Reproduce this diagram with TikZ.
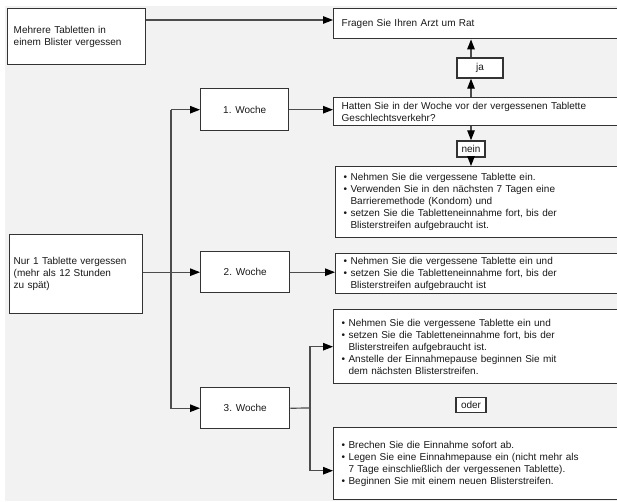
\documentclass[tikz,border=0pt]{standalone}
\usepackage{fontspec}
\setmainfont{Liberation Sans}
\usepackage{tikz}
\usetikzlibrary{positioning, arrows.meta}
\usepackage{xcolor}

\newcommand{\pkt}{\textbullet\ }
\newcommand{\ein}{\phantom{\textbullet\ }}

\tikzset{
    kasten/.style={draw=black!80, line width=1.4pt, fill=white, anchor=north west,
        align=left, inner xsep=8pt, inner ysep=2pt, text=black!90,
        font=\fontsize{10}{12}\selectfont},
    marke/.style={kasten, anchor=center, align=center, inner sep=1pt},
    linie/.style={draw=black!70, line width=1.2pt}
}

\begin{document}
\begin{tikzpicture}[x=1pt, y=-1pt, >={Triangle[length=10pt,width=7.5pt,color=black]}, linie]

    \path[use as bounding box, clip] (0,0) rectangle (617,501);
    \fill[gray!10] (5,6) rectangle (617,501);

    \node[kasten, inner xsep=6pt, minimum width=138pt, minimum height=56pt, text width=126pt] (mehrere) at (7,8)
        {Mehrere Tabletten in\\einem Blister vergessen};
    \node[kasten, inner xsep=4pt, minimum width=133pt, minimum height=79pt, text width=125pt] (nur) at (9,234)
        {Nur 1 Tablette vergessen\\(mehr als 12 Stunden\\zu spät)};

    \node[kasten, align=center, minimum width=88pt, minimum height=42pt] (woche1) at (200,88) {1. Woche};
    \node[kasten, align=center, minimum width=89pt, minimum height=41pt] (woche2) at (200,251) {2. Woche};
    \node[kasten, align=center, minimum width=89pt, minimum height=41pt] (woche3) at (200,387) {3. Woche};

    \node[kasten, minimum height=30pt, text width=290pt] (fragen) at (333,8) {Fragen Sie Ihren Arzt um Rat};
    \node[kasten, minimum height=28pt, text width=290pt] (hatten) at (333,97)
        {Hatten Sie in der Woche vor der vergessenen Tablette\\Geschlechtsverkehr?};
    \node[marke, minimum width=46pt, minimum height=20pt] (ja) at (480,68) {ja};
    \node[marke, minimum width=28pt, minimum height=16pt] (nein) at (471,149) {nein};

    \node[kasten, minimum height=71pt, text width=290pt] (massnahme1) at (335,166)
        {\pkt Nehmen Sie die vergessene Tablette ein.\\
         \pkt Verwenden Sie in den nächsten 7 Tagen eine\\
         \ein Barrieremethode (Kondom) und\\
         \pkt setzen Sie die Tabletteneinnahme fort, bis der\\
         \ein Blisterstreifen aufgebraucht ist.};
    \node[kasten, minimum height=40pt, text width=290pt] (massnahme2) at (335,253)
        {\pkt Nehmen Sie die vergessene Tablette ein und\\
         \pkt setzen Sie die Tabletteneinnahme fort, bis der\\
         \ein Blisterstreifen aufgebraucht ist};
    \node[kasten, minimum height=74pt, text width=290pt] (massnahme3) at (333,309)
        {\pkt Nehmen Sie die vergessene Tablette ein und\\
         \pkt setzen Sie die Tabletteneinnahme fort, bis der\\
         \ein Blisterstreifen aufgebraucht ist.\\
         \pkt Anstelle der Einnahmepause beginnen Sie mit\\
         \ein dem nächsten Blisterstreifen.};
    \node[marke, minimum width=30pt, minimum height=15pt] (oder) at (471,405) {oder};
    \node[kasten, minimum height=72pt, text width=290pt] (massnahme4) at (333,427)
        {\pkt Brechen Sie die Einnahme sofort ab.\\
         \pkt Legen Sie eine Einnahmepause ein (nicht mehr als\\
         \ein 7 Tage einschließlich der vergessenen Tablette).\\
         \pkt Beginnen Sie mit einem neuen Blisterstreifen.};

    \coordinate (stamm) at (171,273);
    \coordinate (gabel) at (310,408);

    \draw[->] (mehrere.east |- 0,20) -- (fragen.west |- 0,20);
    \draw[->] (nur.east |- woche2.west) -- (woche2.west);
    \draw[->] (woche1.west -| stamm) -- (woche1.west);
    \draw[->] (woche1.west -| stamm) |- (woche3.west);

    \draw[->] (woche1.east) -- (woche1.east -| hatten.west);
    \draw[->] (hatten.north -| nein) -- (ja.south -| nein);
    \draw[->] (ja.north -| nein) -- (fragen.south -| nein);
    \draw[->] (hatten.south -| nein) -- (nein.north);
    \draw[->] (nein.south) -- (nein.south |- massnahme1.north);

    \draw[->] (woche2.east) -- (woche2.east -| massnahme2.west);
    \draw (woche3.east) -- (gabel);
    \draw[->] (gabel) |- (massnahme3.west);
    \draw[->] (gabel) |- ([yshift=-7pt]massnahme4.west);

\end{tikzpicture}
\end{document}
